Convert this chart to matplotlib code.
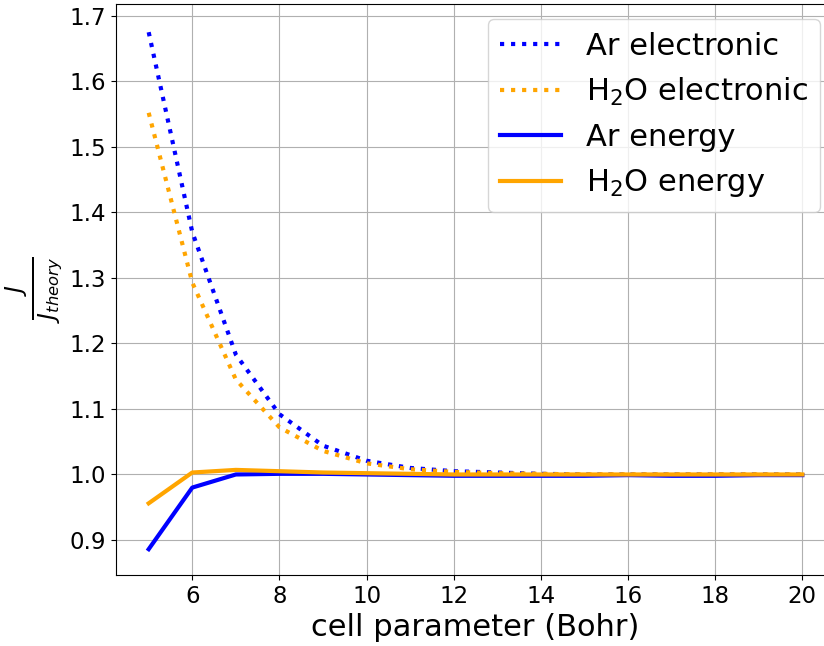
import numpy as np
import matplotlib
matplotlib.use("Agg")
import matplotlib.pyplot as plt

# Cell parameter (Bohr)
cell = [5, 6, 7, 8, 9, 10, 11, 12, 13, 14, 15, 16, 17, 18, 19, 20]

# J / J_theory
ar_electronic  = [1.675, 1.370, 1.183, 1.092, 1.044, 1.021, 1.010, 1.005, 1.003, 1.001,
                  1.000, 1.000, 1.000, 1.000, 1.000, 1.000]
h2o_electronic = [1.552, 1.293, 1.145, 1.072, 1.036, 1.017, 1.008, 1.004, 1.002, 1.001,
                  1.000, 1.000, 1.000, 1.000, 1.000, 1.000]
ar_energy      = [0.886, 0.980, 1.000, 1.001, 1.001, 1.000, 0.999, 0.998, 0.998, 0.998,
                  0.998, 0.999, 0.998, 0.998, 0.999, 0.999]
h2o_energy     = [0.956, 1.003, 1.007, 1.005, 1.003, 1.002, 1.001, 1.000, 1.000, 1.000,
                  1.000, 1.000, 1.000, 1.000, 1.000, 1.000]

fig = plt.figure(figsize=(8.24, 6.46), dpi=100)
ax = fig.add_axes([116 / 824, 1 - 575 / 646, (835 - 116) / 824, (575 - 4) / 646])

ax.plot(cell, ar_electronic, color="blue", linestyle=":", linewidth=3, label="Ar electronic")
ax.plot(cell, h2o_electronic, color="orange", linestyle=":", linewidth=3, label=r"H$_2$O electronic")
ax.plot(cell, ar_energy, color="blue", linewidth=3, label="Ar energy")
ax.plot(cell, h2o_energy, color="orange", linewidth=3, label=r"H$_2$O energy")

ax.set_xlim(4.25, 20.75)
ax.set_ylim(0.8466, 1.718)
ax.set_xticks([6, 8, 10, 12, 14, 16, 18, 20])
ax.set_yticks([0.9, 1.0, 1.1, 1.2, 1.3, 1.4, 1.5, 1.6, 1.7])
ax.tick_params(labelsize=16.5)
ax.set_xlabel("cell parameter (Bohr)", fontsize=22)
ax.set_ylabel(r"$\frac{J}{J_{theory}}$", fontsize=24)
ax.grid(True)
ax.legend(fontsize=22, loc="upper right")

fig.savefig("out.png", dpi=100)
